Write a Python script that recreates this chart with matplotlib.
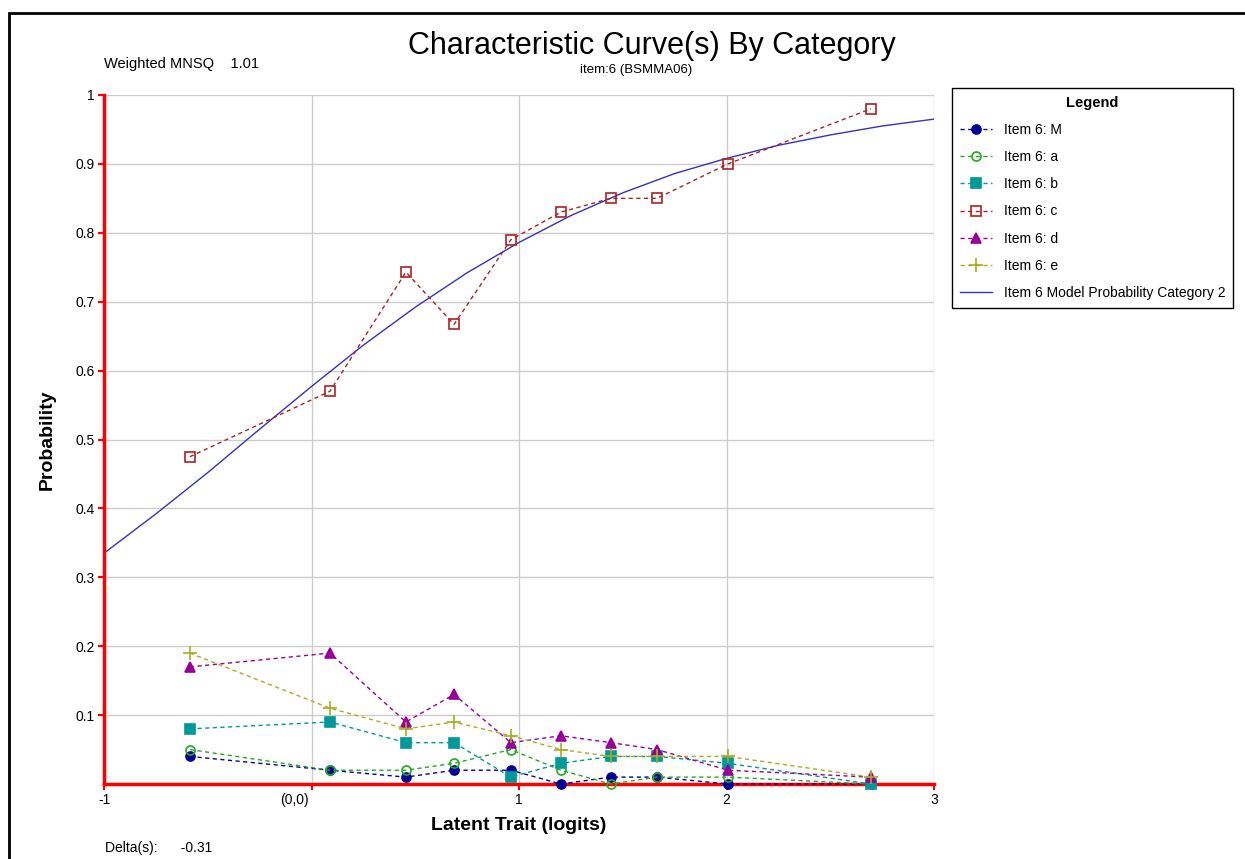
import matplotlib
matplotlib.use("Agg")
import matplotlib.pyplot as plt
from matplotlib.patches import Rectangle
from matplotlib.transforms import ScaledTranslation

plt.rcParams['font.family'] = ['Liberation Sans', 'DejaVu Sans']

# ability group locations (logits)
x_groups = [-0.586, 0.089, 0.455, 0.687, 0.961, 1.202, 1.443, 1.665, 2.007, 2.696]

# observed proportions per category
obs_M = [0.04, 0.02, 0.01, 0.02, 0.02, 0.00, 0.01, 0.01, 0.00, 0.00]
obs_a = [0.05, 0.02, 0.02, 0.03, 0.05, 0.02, 0.00, 0.01, 0.01, 0.00]
obs_b = [0.08, 0.09, 0.06, 0.06, 0.01, 0.03, 0.04, 0.04, 0.03, 0.00]
obs_c = [0.475, 0.57, 0.743, 0.667, 0.79, 0.83, 0.85, 0.85, 0.90, 0.98]
obs_d = [0.17, 0.19, 0.09, 0.13, 0.06, 0.07, 0.06, 0.05, 0.02, 0.01]
obs_e = [0.19, 0.11, 0.08, 0.09, 0.07, 0.05, 0.04, 0.04, 0.04, 0.01]

# model curve
model_x = [-1.0, -0.75, -0.5, -0.25, 0.0, 0.25, 0.5, 0.75, 1.0, 1.25, 1.5, 1.75, 2.0, 2.25, 2.5, 2.75, 3.0]
model_y = [0.335, 0.392, 0.452, 0.515, 0.577, 0.637, 0.692, 0.742, 0.786, 0.825, 0.858, 0.886, 0.908, 0.927, 0.942, 0.955, 0.965]

x_ticks = [-1, 0, 1, 2, 3]
x_tick_labels = ['-1', '(0,0)', '1', '2', '3']
y_ticks = [0.1, 0.2, 0.3, 0.4, 0.5, 0.6, 0.7, 0.8, 0.9, 1.0]
y_tick_labels = ['0.1', '0.2', '0.3', '0.4', '0.5', '0.6', '0.7', '0.8', '0.9', '1']

W, H = 1245, 859
fig = plt.figure(figsize=(W / 100, H / 100), dpi=100)
fig.patch.set_facecolor('white')
ax = fig.add_axes([104 / W, 1 - 784 / H, (934 - 104) / W, (784 - 95) / H])

# outer frame
fig.patches.append(Rectangle((9 / W, -0.1), 1.2, 1 - 13 / H + 0.1, transform=fig.transFigure,
                             fill=False, edgecolor='black', linewidth=2, zorder=0))

series = [
    ('Item 6: M', obs_M, '#000099', 'o', 'full'),
    ('Item 6: a', obs_a, '#22AA22', 'o', 'none'),
    ('Item 6: b', obs_b, '#009999', 's', 'full'),
    ('Item 6: c', obs_c, '#AA2222', 's', 'none'),
    ('Item 6: d', obs_d, '#990099', '^', 'full'),
    ('Item 6: e', obs_e, '#AAAA22', '+', 'full'),
]
for label, vals, col, mk, fill in series:
    ax.plot(x_groups, vals, linestyle=(0, (3, 2.5)), linewidth=1, color=col,
            marker=mk, markersize=6.5 if mk != '+' else 9.5, fillstyle=fill,
            markeredgewidth=1.2, markerfacecolor=col if fill == 'full' else 'white',
            label=label, clip_on=False, zorder=3)

ax.plot(model_x, model_y, color='#3333BB', linewidth=1,
        label='Item 6 Model Probability Category 2', zorder=2)

ax.set_xlim(-1, 3)
ax.set_ylim(0, 1)
ax.set_xticks(x_ticks)
ax.set_xticklabels(x_tick_labels, fontsize=10)
ax.set_yticks(y_ticks)
ax.set_yticklabels(y_tick_labels, fontsize=10)
ax.grid(True, color='#CCCCCC', linewidth=1)
ax.set_axisbelow(True)
for s in ['top', 'right']:
    ax.spines[s].set_visible(False)
for s in ['left', 'bottom']:
    ax.spines[s].set_color('red')
    ax.spines[s].set_linewidth(2.5)
ax.tick_params(colors='red', labelcolor='black', length=4.5, width=1.5, direction='out', pad=2)

# "(0,0)" label sits left of its grid line
lbl = ax.get_xticklabels()[1]
lbl.set_transform(lbl.get_transform() + ScaledTranslation(-0.17, 0, fig.dpi_scale_trans))

ax.set_xlabel('Latent Trait (logits)', fontsize=14, fontweight='bold', labelpad=7)
ax.set_ylabel('Probability', fontsize=14, fontweight='bold', labelpad=14)

fig.text(652 / W, 1 - 46 / H, 'Characteristic Curve(s) By Category', fontsize=22,
         ha='center', va='center')
fig.text(636 / W, 1 - 70 / H, 'item:6 (BSMMA06)', fontsize=9.5, ha='center', va='center')
fig.text(104 / W, 1 - 64 / H, 'Weighted MNSQ    1.01', fontsize=10.5, ha='left', va='center')
fig.text(105 / W, 1 - 848 / H, 'Delta(s):      -0.31', fontsize=10, ha='left', va='center')

leg = ax.legend(loc='upper left', bbox_to_anchor=(952 / W, 1 - 88 / H),
                bbox_transform=fig.transFigure, borderaxespad=0, fontsize=10,
                title='Legend', title_fontproperties={'weight': 'bold', 'size': 10.5},
                fancybox=False, edgecolor='black', framealpha=1, labelspacing=0.95,
                handlelength=2.3, handletextpad=0.9, borderpad=0.55)
leg.get_frame().set_linewidth(1)

fig.savefig('out.png', dpi=100)
